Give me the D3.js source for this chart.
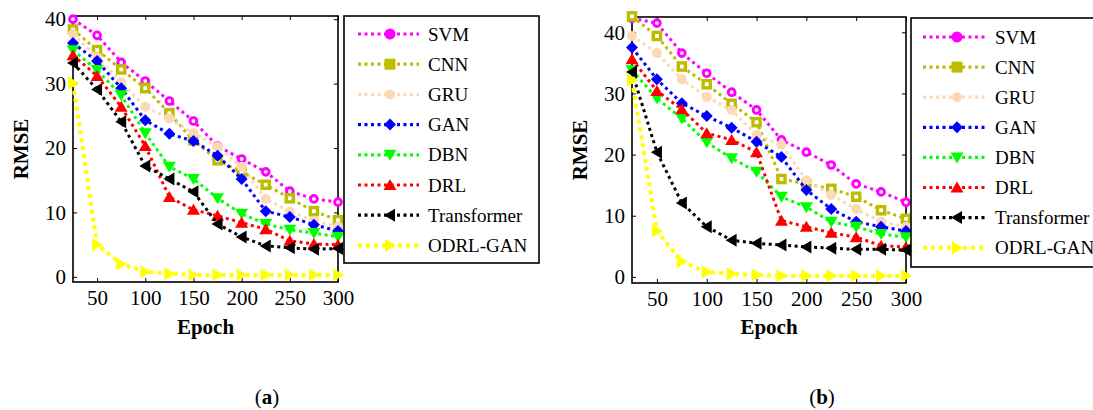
<!DOCTYPE html>
<html>
<head>
<meta charset="utf-8">
<script src="https://cdn.jsdelivr.net/npm/d3@7"></script>
<style>
  html, body { margin: 0; padding: 0; background: #fff; }
  svg { display: block; }
  text { font-family: "Liberation Serif", "Times New Roman", serif; fill: #000; }
</style>
</head>
<body>
<svg id="chart" width="1093" height="410"></svg>
<script>
// ---------- data ----------
const epochs = [25, 50, 75, 100, 125, 150, 175, 200, 225, 250, 275, 300];
const xTicks = [50, 100, 150, 200, 250, 300];
const yTicks = [0, 10, 20, 30, 40];
const methods = ["SVM", "CNN", "GRU", "GAN", "DBN", "DRL", "Transformer", "ODRL-GAN"];

// panel (a)
const a_SVM = [40, 37.5, 33.3, 30.4, 27.3, 24.2, 20.3, 18.3, 16.3, 13.3, 12.1, 11.6];
const a_CNN = [38.4, 35.2, 32.2, 29.3, 25.4, 21.2, 18.1, 16.3, 14.3, 12.2, 10.2, 8.8];
const a_GRU = [37.7, 34.1, 30.2, 26.4, 24.6, 22.3, 20.2, 17.1, 12.1, 10.1, 8.7, 7.8];
const a_GAN = [36.3, 33.5, 29.3, 24.3, 22.2, 21.1, 18.8, 15.2, 10.2, 9.3, 8.1, 7.1];
const a_DBN = [35.2, 32.1, 28.2, 22.3, 17.1, 15.2, 12.2, 9.8, 8.2, 7.3, 6.8, 6.2];
const a_DRL = [34.4, 31.2, 26.4, 20.3, 12.4, 10.4, 9.5, 8.4, 7.4, 5.6, 5.1, 5.0];
const a_Transformer = [33.2, 29.1, 24.1, 17.2, 15.2, 13.2, 8.2, 6.2, 4.8, 4.5, 4.3, 4.4];
const a_ODRL = [30.1, 5.0, 2.0, 0.8, 0.5, 0.3, 0.3, 0.3, 0.3, 0.3, 0.3, 0.3];

// panel (b)
const b_SVM = [42.3, 41.5, 36.6, 33.3, 30.2, 27.3, 22.4, 20.4, 18.3, 15.2, 13.9, 12.2];
const b_CNN = [42.6, 39.4, 34.4, 31.5, 28.3, 25.3, 16.0, 15.2, 14.4, 13.1, 10.9, 9.5];
const b_GRU = [39.4, 36.6, 32.3, 29.4, 27.3, 23.2, 21.6, 15.8, 13.4, 11.1, 9.0, 8.2];
const b_GAN = [37.5, 32.3, 28.4, 26.3, 24.4, 22.1, 19.6, 14.2, 11.1, 9.0, 8.2, 7.5];
const b_DBN = [33.8, 29.2, 25.9, 22.0, 19.4, 17.2, 13.1, 11.4, 9.0, 8.2, 7.0, 6.5];
const b_DRL = [35.6, 30.4, 27.4, 23.5, 22.4, 20.4, 9.2, 8.2, 7.2, 6.5, 5.1, 4.9];
const b_Transformer = [33.5, 20.4, 12.1, 8.2, 6.0, 5.5, 5.2, 4.9, 4.7, 4.5, 4.5, 4.4];
const b_ODRL = [32.2, 7.5, 2.5, 0.8, 0.5, 0.3, 0.2, 0.2, 0.2, 0.2, 0.2, 0.2];

const colors = ["#ff00ff", "#bcbc00", "#fdd8b5", "#0000ff", "#00ff00", "#ff0000", "#000000", "#ffff00"];
const shapes = ["circleOpen", "squareOpen", "circle", "diamond", "triDown", "triUp", "triLeft", "triRight"];

const panels = [
  { series: [a_SVM, a_CNN, a_GRU, a_GAN, a_DBN, a_DRL, a_Transformer, a_ODRL],
    xRange: [73, 338], yDomain: [-0.8, 40.5], yRange: [282, 16],
    legend: { x: 344, y: 16, w: 195, h: 247, row0: 34, dy: 30.2, l0: 358, l1: 419, m: 390, tx: 428 },
    caption: "a", capX: 267 },
  { series: [b_SVM, b_CNN, b_GRU, b_GAN, b_DBN, b_DRL, b_Transformer, b_ODRL],
    xRange: [632, 906], yDomain: [-1, 42.5], yRange: [283, 17],
    legend: { x: 911, y: 18, w: 200, h: 249, row0: 37, dy: 30.1, l0: 923, l1: 985, m: 957, tx: 995 },
    caption: "b", capX: 822 }
];

const svg = d3.select("#chart");
const SERIF = '"Liberation Serif", "Times New Roman", serif';

function marker(g, shape, color, cx, cy, legend) {
  if (shape === "circleOpen") {
    return g.append("circle").attr("cx", cx).attr("cy", cy).attr("r", legend ? 5.5 : 3.4)
      .attr("fill", legend ? color : "#fff").attr("stroke", color).attr("stroke-width", legend ? 0 : 2.9);
  } else if (shape === "squareOpen") {
    const h = legend ? 5.5 : 3.6;
    return g.append("rect").attr("x", cx - h).attr("y", cy - h).attr("width", 2 * h).attr("height", 2 * h)
      .attr("fill", legend ? color : "#fff").attr("stroke", color).attr("stroke-width", legend ? 0 : 3.4);
  } else if (shape === "circle") {
    return g.append("circle").attr("cx", cx).attr("cy", cy).attr("r", 5).attr("fill", color);
  }
  let pts;
  if (shape === "diamond") pts = [[0, -6], [6, 0], [0, 6], [-6, 0]];
  if (shape === "triDown") pts = [[-6.5, -5], [6.5, -5], [0, 6]];
  if (shape === "triUp") pts = [[-6.5, 5], [6.5, 5], [0, -6]];
  if (shape === "triLeft") pts = [[5, -6.5], [5, 6.5], [-6, 0]];
  if (shape === "triRight") pts = [[-5, -6.5], [-5, 6.5], [6, 0]];
  return g.append("polygon").attr("points", pts.map(p => [cx + p[0], cy + p[1]].join(",")).join(" "))
    .attr("fill", color);
}

panels.forEach(p => {
  const x = d3.scaleLinear().domain([25, 300]).range(p.xRange);
  const y = d3.scaleLinear().domain(p.yDomain).range(p.yRange);
  const g = svg.append("g");
  const [x0, x1] = p.xRange;
  const [yb, yt] = p.yRange;

  // axes (inward ticks on all four sides)
  const ax = g.append("g");
  ax.append("g").attr("transform", `translate(0,${yb})`)
    .call(d3.axisBottom(x).tickValues(xTicks).tickSize(-4).tickPadding(8).tickSizeOuter(0))
    .call(s => s.selectAll("text").attr("dy", "0.71em"));
  ax.append("g").attr("transform", `translate(0,${yt})`)
    .call(d3.axisTop(x).tickValues(xTicks).tickSize(-4).tickFormat("").tickSizeOuter(0));
  ax.append("g").attr("transform", `translate(${x0},0)`)
    .call(d3.axisLeft(y).tickValues(yTicks).tickSize(-4).tickPadding(7).tickSizeOuter(0));
  ax.append("g").attr("transform", `translate(${x1},0)`)
    .call(d3.axisRight(y).tickValues(yTicks).tickSize(-4).tickFormat("").tickSizeOuter(0));
  ax.selectAll("g").attr("font-family", SERIF).attr("font-size", 21);
  ax.selectAll("text").style("font-family", SERIF).style("font-size", "21px");
  ax.selectAll(".domain").remove();
  ax.selectAll(".tick line").attr("stroke", "#000").attr("stroke-width", 1);
  g.append("rect").attr("x", x0).attr("y", yt).attr("width", x1 - x0).attr("height", yb - yt)
    .attr("fill", "none").attr("stroke", "#000").attr("stroke-width", 1.6);

  // axis titles
  g.append("text").attr("x", (x0 + x1) / 2).attr("y", 334).attr("text-anchor", "middle")
    .attr("font-size", 21).attr("font-weight", "bold").text("Epoch");
  g.append("text").attr("transform", `translate(${x0 - 52},${(yb + yt) / 2}) rotate(-90)`)
    .attr("text-anchor", "middle").attr("dominant-baseline", "central")
    .attr("font-size", 21).attr("font-weight", "bold").text("RMSE");

  // series
  const line = d3.line().x((d, i) => x(epochs[i])).y(d => y(d));
  p.series.forEach((vals, k) => {
    const yellow = k === 7;
    g.append("path").attr("d", line(vals)).attr("fill", "none").attr("stroke", colors[k])
      .attr("stroke-width", yellow ? 4 : 3).attr("stroke-dasharray", yellow ? "4,4" : "3,3.5");
    const mg = g.append("g");
    vals.forEach((v, i) => marker(mg, shapes[k], colors[k], x(epochs[i]), y(v), false));
  });

  // legend
  const L = p.legend;
  const lg = svg.append("g");
  lg.append("rect").attr("x", L.x).attr("y", L.y).attr("width", L.w).attr("height", L.h)
    .attr("fill", "#fff").attr("stroke", "#000").attr("stroke-width", 1.6);
  methods.forEach((m, k) => {
    const cy = L.row0 + k * L.dy;
    const yellow = k === 7;
    lg.append("line").attr("x1", L.l0).attr("x2", L.l1).attr("y1", cy).attr("y2", cy)
      .attr("stroke", colors[k]).attr("stroke-width", yellow ? 4 : 3.2).attr("stroke-dasharray", yellow ? "4,4" : "3,3.5");
    marker(lg, shapes[k], colors[k], L.m, cy, true);
    lg.append("text").attr("x", L.tx).attr("y", cy).attr("dominant-baseline", "central")
      .attr("font-size", 19).text(m);
  });

  // caption
  const cap = svg.append("text").attr("x", p.capX).attr("y", 404).attr("text-anchor", "middle").attr("font-size", 21);
  cap.append("tspan").text("(");
  cap.append("tspan").attr("font-weight", "bold").text(p.caption);
  cap.append("tspan").text(")");
});
</script>
</body>
</html>
